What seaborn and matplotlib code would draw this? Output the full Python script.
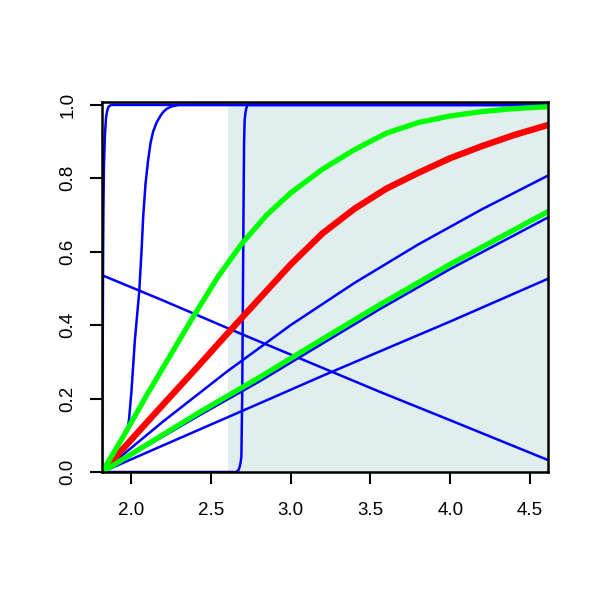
import numpy as np
import pandas as pd
import matplotlib
matplotlib.use("Agg")
import matplotlib.pyplot as plt
import seaborn as sns

# ---- data ----
x_steep1 = [1.82, 1.823, 1.826, 1.828, 1.831, 1.8375, 1.844, 1.852, 1.86, 1.875, 4.61]
y_steep1 = [0.0, 0.30, 0.60, 0.72, 0.83, 0.92, 0.965, 0.985, 0.995, 1.0, 1.0]

x_steep2 = [1.82, 1.90, 1.95, 1.979, 1.989, 2.004, 2.025, 2.052, 2.067, 2.077, 2.092,
            2.108, 2.123, 2.139, 2.161, 2.1875, 2.205, 2.223, 2.245, 2.264, 2.30, 4.61]
y_steep2 = [0.0, 0.06, 0.095, 0.114, 0.146, 0.223, 0.36, 0.49, 0.605, 0.696, 0.787,
            0.850, 0.896, 0.927, 0.952, 0.972, 0.982, 0.989, 0.994, 0.997, 1.0, 1.0]

x_step3 = [1.82, 2.66, 2.675, 2.681, 2.687, 2.692, 2.697, 2.702, 2.706, 2.709,
           2.7125, 2.718, 2.723, 2.73, 4.61]
y_step3 = [0.0, 0.0, 0.006, 0.014, 0.025, 0.042, 0.2, 0.5, 0.75, 0.9,
           0.959, 0.98, 0.991, 1.0, 1.0]

x_blueA = [1.82, 2.2, 2.6, 3.0, 3.4, 3.8, 4.2, 4.61]
y_blueA = [0.0, 0.137, 0.273, 0.400, 0.515, 0.620, 0.716, 0.807]

x_blueB = [1.82, 2.431, 2.806, 3.2, 3.556, 4.0, 4.61]
y_blueB = [0.0, 0.155, 0.247, 0.35, 0.443, 0.553, 0.693]

x_blueC = [1.82, 2.431, 2.806, 3.2, 3.556, 4.0, 4.61]
y_blueC = [0.0, 0.116, 0.187, 0.262, 0.328, 0.41, 0.526]

x_blueD = [1.82, 2.192, 2.681, 3.556, 4.0, 4.61]
y_blueD = [0.536, 0.469, 0.378, 0.219, 0.141, 0.033]

x_red = [1.82, 2.0, 2.2, 2.4, 2.6, 2.8, 3.0, 3.2, 3.4, 3.6, 3.8, 4.0, 4.2, 4.4, 4.61]
y_red = [0.0, 0.087, 0.183, 0.278, 0.375, 0.47, 0.565, 0.65, 0.717, 0.772, 0.815,
         0.855, 0.888, 0.918, 0.945]

x_green_hi = [1.82, 1.95, 2.1, 2.25, 2.4, 2.55, 2.7, 2.85, 3.0, 3.2, 3.4, 3.6, 3.8,
              4.0, 4.2, 4.4, 4.61]
y_green_hi = [0.0, 0.095, 0.21, 0.32, 0.43, 0.535, 0.625, 0.70, 0.76, 0.825, 0.878,
              0.923, 0.952, 0.970, 0.982, 0.990, 0.995]

x_green_lo = [1.82, 2.431, 2.806, 3.2, 3.556, 4.0, 4.61]
y_green_lo = [0.0, 0.163, 0.258, 0.362, 0.455, 0.566, 0.709]

shade_start = 2.606
x_limits = (1.819, 4.6125)
y_limits = (0.0, 1.008)
x_ticks = [2.0, 2.5, 3.0, 3.5, 4.0, 4.5]
y_ticks = [0.0, 0.2, 0.4, 0.6, 0.8, 1.0]

# ---- style ----
sns.set_theme(style="ticks")
plt.rcParams['font.family'] = ['Liberation Sans', 'DejaVu Sans']

fig = plt.figure(figsize=(6, 6), dpi=100)
ax = fig.add_axes([102/600, 128/600, 446/600, 370/600])

ax.axvspan(shade_start, x_limits[1], color="#E0EEEE", lw=0, zorder=0)

blue_sets = [(x_steep1, y_steep1), (x_steep2, y_steep2), (x_step3, y_step3),
             (x_blueA, y_blueA), (x_blueB, y_blueB), (x_blueC, y_blueC),
             (x_blueD, y_blueD)]
for xs, ys in blue_sets:
    sns.lineplot(x=xs, y=ys, ax=ax, color="#0000FF", lw=1.8, sort=False,
                 estimator=None, zorder=2)

sns.lineplot(x=x_red, y=y_red, ax=ax, color="#FF0000", lw=4.6, sort=False,
             estimator=None, zorder=3)
for xs, ys in [(x_green_hi, y_green_hi), (x_green_lo, y_green_lo)]:
    sns.lineplot(x=xs, y=ys, ax=ax, color="#00FF00", lw=3.8, sort=False,
                 estimator=None, zorder=4)

ax.set_xlim(*x_limits)
ax.set_ylim(*y_limits)
ax.set_xticks(x_ticks)
ax.set_xticklabels([f"{v:.1f}" for v in x_ticks])
ax.set_yticks(y_ticks)
ax.set_yticklabels([f"{v:.1f}" for v in y_ticks], rotation=90, va="center")
ax.set_xlabel("")
ax.set_ylabel("")

for s in ax.spines.values():
    s.set_visible(True)
    s.set_linewidth(1.8)
    s.set_color("black")
    s.set_zorder(5)

ax.tick_params(axis="both", direction="out", length=8.5, width=1.5,
               colors="black", labelsize=13.5)
ax.tick_params(axis="x", pad=13)
ax.tick_params(axis="y", pad=10)

fig.savefig("out.png", dpi=100, facecolor="white")
